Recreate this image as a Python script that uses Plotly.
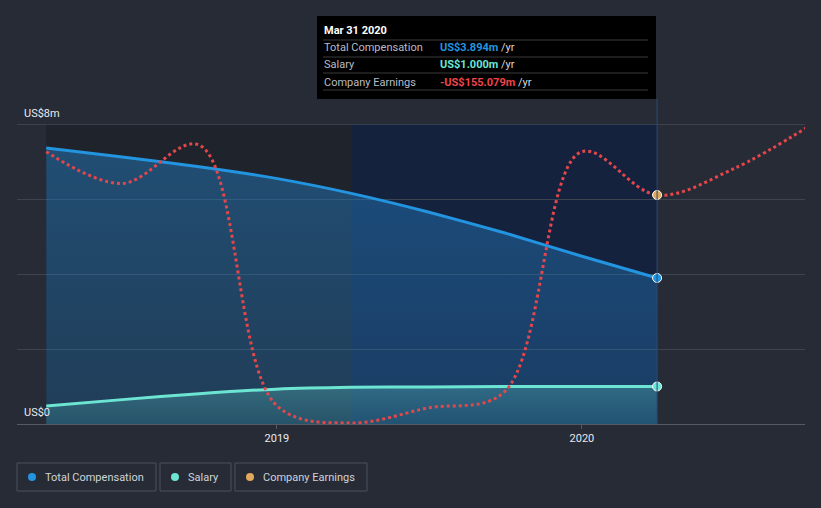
import plotly.graph_objects as go

# ---------------- data ----------------
dates = ["2018-03-31", "2018-06-30", "2018-09-30", "2018-12-31", "2019-03-31",
         "2019-06-30", "2019-09-30", "2019-12-31", "2020-03-31"]
total_comp = [7.36, 7.12, 6.86, 6.55, 6.15, 5.66, 5.10, 4.48, 3.894]   # US$m
salary = [0.48, 0.65, 0.81, 0.93, 0.98, 0.99, 1.0, 1.0, 1.0]          # US$m

earn_dates = ["2018-03-31", "2018-06-30", "2018-09-30", "2018-12-31", "2019-03-31",
              "2019-06-30", "2019-09-30", "2019-12-31", "2020-03-31", "2020-06-30",
              "2020-09-30"]
earnings = [-70.9, -132.7, -57.9, -563.0, -598.0, -569.0, -538.0, -71.5,
            -155.079, -104.5, -20.0]                                    # US$m

y_ticks = [0, 2, 4, 6, 8]
x_ticks = ["2019-01-01", "2020-01-01"]
x_tick_labels = ["2019", "2020"]

# ---------------- style ----------------
BG = "#262b36"
BLUE = "#2394df"
TEAL = "#6ce5d3"
RED = "#e4474b"
ORANGE = "#e2a85c"
GRID = "#3d4350"
TXT = "#d0d3d8"

W, H = 821, 508
L, R, T, B = 17, 16, 124, 84
PW, PH = W - L - R, H - T - B


def px(x):
    return (x - L) / PW


def py(y):
    return (H - B - y) / PH


fig = go.Figure()

fig.add_trace(go.Scatter(
    x=dates, y=total_comp, mode="lines", name="Total Compensation",
    line=dict(color=BLUE, width=3, shape="spline", smoothing=0.6),
    fill="tozeroy", fillgradient=dict(type="vertical",
        colorscale=[[0, "rgba(35,110,170,0.35)"], [1, "rgba(35,125,195,0.48)"]]),
    hoverinfo="skip"))
fig.add_trace(go.Scatter(
    x=dates, y=salary, mode="lines", name="Salary",
    line=dict(color=TEAL, width=3, shape="spline", smoothing=0.6),
    fill="tozeroy", fillgradient=dict(type="vertical",
        colorscale=[[0, "rgba(60,150,160,0.25)"], [1, "rgba(90,190,190,0.35)"]]),
    hoverinfo="skip"))
fig.add_trace(go.Scatter(
    x=earn_dates, y=earnings, mode="lines", name="Company Earnings", yaxis="y2",
    line=dict(color=RED, width=3, dash="dot", shape="spline", smoothing=1.0),
    hoverinfo="skip"))

# end markers
fig.add_trace(go.Scatter(x=[dates[-1]], y=[total_comp[-1]], mode="markers",
                         marker=dict(color=BLUE, size=9, line=dict(color="white", width=1)),
                         hoverinfo="skip"))
fig.add_trace(go.Scatter(x=[dates[-1]], y=[salary[-1]], mode="markers",
                         marker=dict(color=TEAL, size=9, line=dict(color="white", width=1)),
                         hoverinfo="skip"))
fig.add_trace(go.Scatter(x=[earn_dates[8]], y=[earnings[8]], mode="markers", yaxis="y2",
                         marker=dict(color=ORANGE, size=9, line=dict(color="white", width=1)),
                         hoverinfo="skip"))

shapes = []
# background bands
shapes.append(dict(type="rect", xref="x", yref="paper", x0=dates[0], x1=dates[4], y0=0, y1=1,
                   fillcolor="#1f232b", line=dict(width=0), layer="below"))
shapes.append(dict(type="rect", xref="x", yref="paper", x0=dates[4], x1=dates[-1], y0=0, y1=1,
                   fillcolor="#15223e", line=dict(width=0), layer="below"))
# top gridline
shapes.append(dict(type="line", xref="paper", yref="y", x0=0, x1=1, y0=y_ticks[-1], y1=y_ticks[-1],
                   line=dict(color="#555b66", width=1)))
# hover vertical line
shapes.append(dict(type="line", xref="x", yref="paper", x0=dates[-1], x1=dates[-1],
                   y0=0, y1=py(99), line=dict(color="#2a4a78", width=1)))
# tooltip box
shapes.append(dict(type="rect", xref="paper", yref="paper", x0=px(317), x1=px(656),
                   y0=py(99), y1=py(16), fillcolor="#000000", line=dict(width=0)))
for yy in [40, 57, 73, 90]:
    shapes.append(dict(type="line", xref="paper", yref="paper", x0=px(323), x1=px(648),
                       y0=py(yy), y1=py(yy), line=dict(color="#3a3a3a", width=1)))
# legend boxes
legend_items = [("Total Compensation", BLUE, 17, 156),
                ("Salary", TEAL, 160, 231),
                ("Company Earnings", ORANGE, 235, 367)]
annotations = []
for name, col, x0, x1 in legend_items:
    shapes.append(dict(type="rect", xref="paper", yref="paper", x0=px(x0), x1=px(x1),
                       y0=py(491), y1=py(463), fillcolor="rgba(0,0,0,0)",
                       line=dict(color="#4a505c", width=1)))
    shapes.append(dict(type="circle", xref="paper", yref="paper",
                       x0=px(x0 + 11), x1=px(x0 + 19), y0=py(481), y1=py(473),
                       fillcolor=col, line=dict(width=0)))
    annotations.append(dict(xref="paper", yref="paper", x=px(x0 + 26), y=py(477),
                            text=name, showarrow=False, xanchor="left", yanchor="middle",
                            font=dict(color=TXT, size=11)))

# y labels
annotations.append(dict(xref="paper", yref="y", x=px(22), y=y_ticks[-1], yshift=11,
                        text="US$8m", showarrow=False, xanchor="left", yanchor="middle",
                        font=dict(color="#e8eaee", size=11)))
annotations.append(dict(xref="paper", yref="y", x=px(22), y=y_ticks[0], yshift=12,
                        text="US$0", showarrow=False, xanchor="left", yanchor="middle",
                        font=dict(color="#e8eaee", size=11)))

# tooltip text
annotations.append(dict(xref="paper", yref="paper", x=px(322), y=py(31), text="<b>Mar 31 2020</b>",
                        showarrow=False, xanchor="left", yanchor="middle",
                        font=dict(color="white", size=11)))
rows = [("Total Compensation", "US$3.894m", BLUE, 48),
        ("Salary", "US$1.000m", TEAL, 65),
        ("Company Earnings", "-US$155.079m", "#f0444a", 82)]
for lab, val, col, yy in rows:
    annotations.append(dict(xref="paper", yref="paper", x=px(322), y=py(yy), text=lab,
                            showarrow=False, xanchor="left", yanchor="middle",
                            font=dict(color="#b8bcc4", size=11)))
    annotations.append(dict(xref="paper", yref="paper", x=px(438), y=py(yy),
                            text=f"<b><span style='color:{col}'>{val}</span></b> /yr",
                            showarrow=False, xanchor="left", yanchor="middle",
                            font=dict(color="#d8dade", size=11)))

fig.update_layout(
    width=W, height=H, margin=dict(l=L, r=R, t=T, b=B),
    paper_bgcolor=BG, plot_bgcolor=BG,
    font=dict(family="Roboto, sans-serif", color=TXT, size=11),
    showlegend=False, shapes=shapes, annotations=annotations,
    xaxis=dict(range=["2018-02-24", "2020-09-24"], tickvals=x_ticks, ticktext=x_tick_labels,
               showgrid=False, zeroline=False, showline=True, linecolor="#555b66",
               ticks="outside", ticklen=4, tickcolor="#555b66",
               tickfont=dict(color="#e8eaee", size=11)),
    yaxis=dict(range=[0, 8], tickvals=y_ticks, showticklabels=False, showgrid=True,
               gridcolor=GRID, zeroline=False),
    yaxis2=dict(range=[-600, -17.1], overlaying="y", visible=False),
)

fig.write_html("out.html")
